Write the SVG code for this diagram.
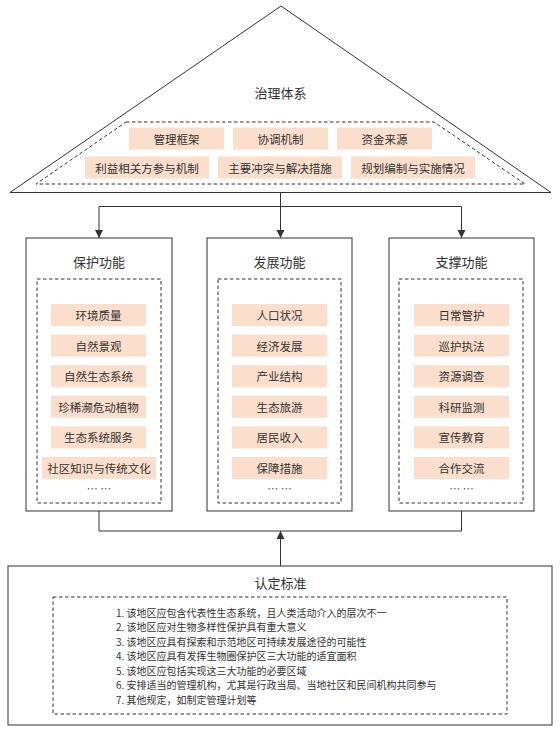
<svg xmlns="http://www.w3.org/2000/svg" width="560" height="731" viewBox="0 0 560 731">
<style>
text{font-family:"Noto Sans CJK SC","Noto Sans",sans-serif;fill:#333;}
.title{font-size:13px;text-anchor:middle;dominant-baseline:central;}
.item{font-size:11.5px;text-anchor:middle;dominant-baseline:central;}
.pb{fill:#fbdfcc;stroke:none;}
.frame{fill:#fff;stroke:#333;stroke-width:1;}
.dash{fill:none;stroke:#333;stroke-width:1;stroke-dasharray:3.5 2.5;}
.conn{fill:none;stroke:#333;stroke-width:1;}
.crit{font-size:10px;dominant-baseline:central;}
.dots{font-size:11px;text-anchor:middle;dominant-baseline:central;fill:#555;}
</style>
<defs>
<marker id="ah" markerWidth="8" markerHeight="10" refX="8" refY="4" orient="auto" markerUnits="userSpaceOnUse" viewBox="0 0 8 8">
<path d="M0,0 L8,4 L0,8 Z" fill="#333"/>
</marker>
</defs>
<rect width="560" height="731" fill="#fff"/>

<g id="governance">
<polygon class="frame" points="281,6 551,192.5 10,192.5"/>
<text class="title" x="280.5" y="92">治理体系</text>
<polygon class="dash" points="126,122 434,122 525,184 36,184"/>
<rect class="pb" x="129" y="127.5" width="95" height="22"/>
<text class="item" x="176.5" y="138.5">管理框架</text>
<rect class="pb" x="233" y="127.5" width="95" height="22"/>
<text class="item" x="280.5" y="138.5">协调机制</text>
<rect class="pb" x="337" y="127.5" width="95" height="22"/>
<text class="item" x="384.5" y="138.5">资金来源</text>
<rect class="pb" x="85" y="156.5" width="124" height="22"/>
<text class="item" x="147" y="167.5">利益相关方参与机制</text>
<rect class="pb" x="218" y="156.5" width="124" height="22"/>
<text class="item" x="280" y="167.5">主要冲突与解决措施</text>
<rect class="pb" x="351" y="156.5" width="124" height="22"/>
<text class="item" x="413" y="167.5">规划编制与实施情况</text>
</g>

<g id="protection">
<rect class="frame" x="26" y="238" width="146" height="273"/>
<text class="title" x="99" y="261">保护功能</text>
<rect class="dash" x="37" y="279" width="124" height="224"/>
<rect class="pb" x="51" y="304" width="95" height="22"/><text class="item" x="98.5" y="315">环境质量</text>
<rect class="pb" x="51" y="334.6" width="95" height="22"/><text class="item" x="98.5" y="345.6">自然景观</text>
<rect class="pb" x="51" y="365.2" width="95" height="22"/><text class="item" x="98.5" y="376.2">自然生态系统</text>
<rect class="pb" x="51" y="395.8" width="95" height="22"/><text class="item" x="98.5" y="406.8">珍稀濒危动植物</text>
<rect class="pb" x="51" y="426.4" width="95" height="22"/><text class="item" x="98.5" y="437.4">生态系统服务</text>
<rect class="pb" x="42" y="457" width="114" height="22"/><text class="item" x="99" y="468">社区知识与传统文化</text>
<text class="dots" x="99" y="488">… …</text>
</g>

<g id="development">
<rect class="frame" x="207" y="238" width="145" height="273"/>
<text class="title" x="279.5" y="261">发展功能</text>
<rect class="dash" x="218" y="279" width="123" height="224"/>
<rect class="pb" x="232" y="304" width="95" height="22"/><text class="item" x="279.5" y="315">人口状况</text>
<rect class="pb" x="232" y="334.6" width="95" height="22"/><text class="item" x="279.5" y="345.6">经济发展</text>
<rect class="pb" x="232" y="365.2" width="95" height="22"/><text class="item" x="279.5" y="376.2">产业结构</text>
<rect class="pb" x="232" y="395.8" width="95" height="22"/><text class="item" x="279.5" y="406.8">生态旅游</text>
<rect class="pb" x="232" y="426.4" width="95" height="22"/><text class="item" x="279.5" y="437.4">居民收入</text>
<rect class="pb" x="232" y="457" width="95" height="22"/><text class="item" x="279.5" y="468">保障措施</text>
<text class="dots" x="279.5" y="488">… …</text>
</g>

<g id="support">
<rect class="frame" x="389" y="238" width="145" height="273"/>
<text class="title" x="461.5" y="261">支撑功能</text>
<rect class="dash" x="399" y="279" width="124" height="224"/>
<rect class="pb" x="414" y="304" width="95" height="22"/><text class="item" x="461.5" y="315">日常管护</text>
<rect class="pb" x="414" y="334.6" width="95" height="22"/><text class="item" x="461.5" y="345.6">巡护执法</text>
<rect class="pb" x="414" y="365.2" width="95" height="22"/><text class="item" x="461.5" y="376.2">资源调查</text>
<rect class="pb" x="414" y="395.8" width="95" height="22"/><text class="item" x="461.5" y="406.8">科研监测</text>
<rect class="pb" x="414" y="426.4" width="95" height="22"/><text class="item" x="461.5" y="437.4">宣传教育</text>
<rect class="pb" x="414" y="457" width="95" height="22"/><text class="item" x="461.5" y="468">合作交流</text>
<text class="dots" x="461.5" y="488">… …</text>
</g>

<g id="criteria">
<rect class="frame" x="8" y="566" width="544" height="159"/>
<text class="title" x="280.5" y="582">认定标准</text>
<rect class="dash" x="53" y="597" width="454" height="117"/>
<text class="crit" x="116" y="612">1. 该地区应包含代表性生态系统，且人类活动介入的层次不一</text>
<text class="crit" x="116" y="626.5">2. 该地区应对生物多样性保护具有重大意义</text>
<text class="crit" x="116" y="641">3. 该地区应具有探索和示范地区可持续发展途径的可能性</text>
<text class="crit" x="116" y="655.5">4. 该地区应具有发挥生物圈保护区三大功能的适宜面积</text>
<text class="crit" x="116" y="670">5. 该地区应包括实现这三大功能的必要区域</text>
<text class="crit" x="116" y="684.5">6. 安排适当的管理机构，尤其是行政当局、当地社区和民间机构共同参与</text>
<text class="crit" x="116" y="699">7. 其他规定，如制定管理计划等</text>
</g>

<g id="connectors">
<path class="conn" d="M280.5,192.5 V206.5 M99,206.5 H461.5"/>
<path class="conn" d="M99,206.5 V238" marker-end="url(#ah)"/>
<path class="conn" d="M280.5,206.5 V238" marker-end="url(#ah)"/>
<path class="conn" d="M461.5,206.5 V238" marker-end="url(#ah)"/>
<path class="conn" d="M99,511 V531 H461.5 V511"/>
<path class="conn" d="M280.5,566 V531" marker-end="url(#ah)"/>
</g>
</svg>
